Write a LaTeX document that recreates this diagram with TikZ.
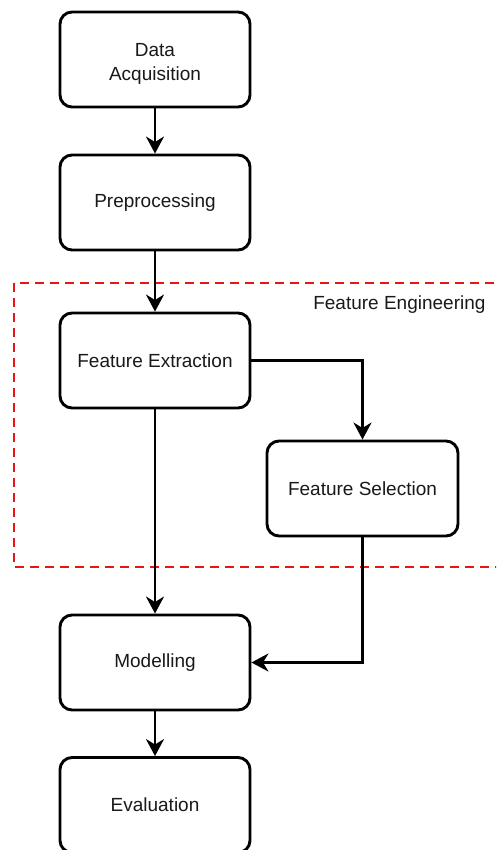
\documentclass[tikz,border=0pt]{standalone}
\usepackage{fontspec}
\setmainfont{Liberation Sans}
\usetikzlibrary{arrows.meta}
\definecolor{dashred}{RGB}{235,20,20}
\begin{document}
\begin{tikzpicture}[x=1pt,y=1pt,
  labeltext/.style={font=\fontsize{19}{24}\selectfont, text=black!90, align=center},
  stage/.style={draw=black, line width=2.9pt, rounded corners=12pt, fill=white,
    minimum width=190pt, minimum height=95pt, labeltext},
  flow/.style={line width=2.8pt, -{Stealth[length=17pt,width=18pt,inset=5.5pt]}},
  group/.style={draw=dashred, line width=2.8pt, dash pattern=on 9pt off 6pt}
]
\useasboundingbox (0,0) rectangle (496,-850);
\clip (0,0) rectangle (496,-850);

% feature engineering group
\draw[group] (14,-283) rectangle (510,-567);
\node[labeltext, anchor=east] (fetitle) at (489,-305) {Feature Engineering};

% pipeline stages
\node[stage] (acq)  at (155,-59.5)  {};
\node[labeltext] (acqtext) at ([yshift=-4pt]acq.center) {Data\\Acquisition};
\node[stage] (pre)  at (155,-202.5) {Preprocessing};
\node[stage] (ext)  at (155,-360.5) {Feature Extraction};
\node[stage, minimum width=191pt] (sel) at (362.5,-488.5) {Feature Selection};
\node[stage] (mod)  at (155,-662.5) {Modelling};
\node[stage] (eval) at (155,-805)   {Evaluation};

% connectors
\draw[flow] (acq) -- (pre);
\draw[flow] (pre) -- (ext);
\draw[flow] (ext.east) -| (sel.north);
\draw[flow] (ext) -- (mod);
\draw[flow] (sel.south) |- (mod.east);
\draw[flow] (mod) -- (eval);
\end{tikzpicture}
\end{document}
